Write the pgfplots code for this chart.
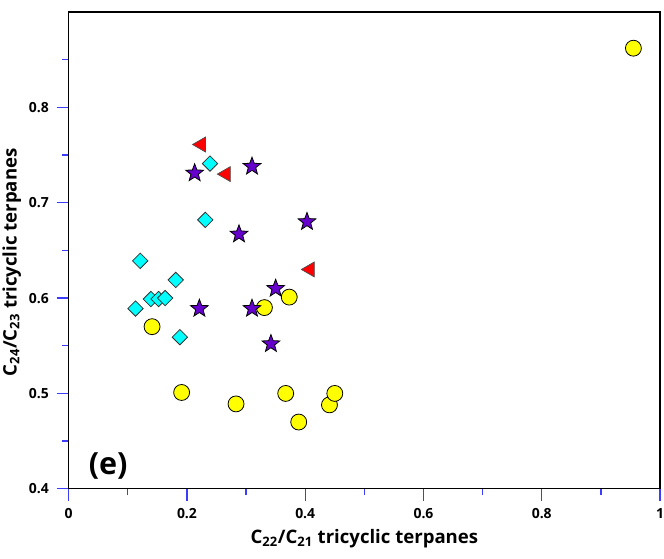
\documentclass[border=0pt]{standalone}
\usepackage{fontspec}
\setmainfont{Open Sans}
\usepackage{pgfplots}
\pgfplotsset{compat=1.18}

\definecolor{tickblue}{RGB}{60,60,255}
\definecolor{mypurple}{RGB}{102,0,204}
\definecolor{mycyan}{RGB}{0,255,255}
\definecolor{myyellow}{RGB}{255,255,0}
\definecolor{myred}{RGB}{255,0,0}

\pgfdeclareplotmark{fstar}{%
 \pgfpathmoveto{\pgfpointpolar{90}{\pgfplotmarksize}}%
 \pgfpathlineto{\pgfpointpolar{126}{0.42\pgfplotmarksize}}%
 \pgfpathlineto{\pgfpointpolar{162}{\pgfplotmarksize}}%
 \pgfpathlineto{\pgfpointpolar{198}{0.42\pgfplotmarksize}}%
 \pgfpathlineto{\pgfpointpolar{234}{\pgfplotmarksize}}%
 \pgfpathlineto{\pgfpointpolar{270}{0.42\pgfplotmarksize}}%
 \pgfpathlineto{\pgfpointpolar{306}{\pgfplotmarksize}}%
 \pgfpathlineto{\pgfpointpolar{342}{0.42\pgfplotmarksize}}%
 \pgfpathlineto{\pgfpointpolar{18}{\pgfplotmarksize}}%
 \pgfpathlineto{\pgfpointpolar{54}{0.42\pgfplotmarksize}}%
 \pgfpathclose
 \pgfusepathqfillstroke}

\begin{document}
\begin{tikzpicture}
\begin{axis}[
  at={(0,0)}, anchor=south west,
  scale only axis,
  width=445.5pt, height=359.25pt,
  xmin=0, xmax=1, ymin=0.4, ymax=0.9,
  xtick={0,0.2,0.4,0.6,0.8,1},
  minor xtick={0.1,0.3,0.5,0.7,0.9},
  ytick={0.4,0.5,0.6,0.7,0.8},
  minor ytick={0.45,0.55,0.65,0.75,0.85},
  xtick pos=left, ytick pos=left,
  tick align=outside,
  major tick length=9pt, minor tick length=5pt,
  every tick/.style={tickblue, line width=1pt},
  axis line style={black, line width=0.9pt},
  /pgf/number format/assume math mode=true,
  ticklabel style={font=\bfseries\fontsize{10.5}{12}\selectfont},
  xticklabel style={yshift=-2.5pt},
  yticklabel style={xshift=-2.5pt},
  xlabel={C\textsubscript{22}/C\textsubscript{21} tricyclic terpanes},
  ylabel={C\textsubscript{24}/C\textsubscript{23} tricyclic terpanes},
  label style={font=\bfseries\fontsize{14}{16}\selectfont},
  xlabel style={yshift=-1.3pt},
  ylabel style={yshift=-1pt, xshift=-9pt},
  clip=false,
]
% yellow circles
\addplot[only marks, mark=*, mark size=6pt, mark options={fill=myyellow, draw=black, line width=0.6pt}] coordinates {
 (0.955,0.862) (0.141,0.570) (0.191,0.501) (0.283,0.489) (0.331,0.590)
 (0.373,0.601) (0.367,0.500) (0.389,0.470) (0.441,0.488) (0.450,0.500)
};
% cyan diamonds
\addplot[only marks, mark=square*, mark size=4.1pt, mark options={rotate=45, fill=mycyan, draw=black!80, line width=0.6pt}] coordinates {
 (0.121,0.639) (0.181,0.619) (0.139,0.599) (0.152,0.599) (0.163,0.600)
 (0.113,0.589) (0.188,0.559) (0.239,0.741) (0.231,0.682)
};
% red triangles
\addplot[only marks, mark=triangle*, mark size=6.5pt, mark options={rotate=90, fill=myred, draw=black!70, line width=0.5pt}] coordinates {
 (0.224,0.761) (0.266,0.730) (0.408,0.630)
};
% purple stars
\addplot[only marks, mark=fstar, mark size=7pt, mark options={fill=mypurple, draw=black, line width=0.6pt}] coordinates {
 (0.213,0.731) (0.310,0.738) (0.288,0.667) (0.403,0.680) (0.350,0.610)
 (0.221,0.589) (0.310,0.589) (0.342,0.552)
};
\node[anchor=west, font=\bfseries\fontsize{23}{26}\selectfont] at (axis cs:0.026,0.424) {(e)};
\end{axis}
\pgfresetboundingbox
\useasboundingbox (-51.75pt,-52.5pt) rectangle (448.5pt,368.25pt);
\end{tikzpicture}
\end{document}
